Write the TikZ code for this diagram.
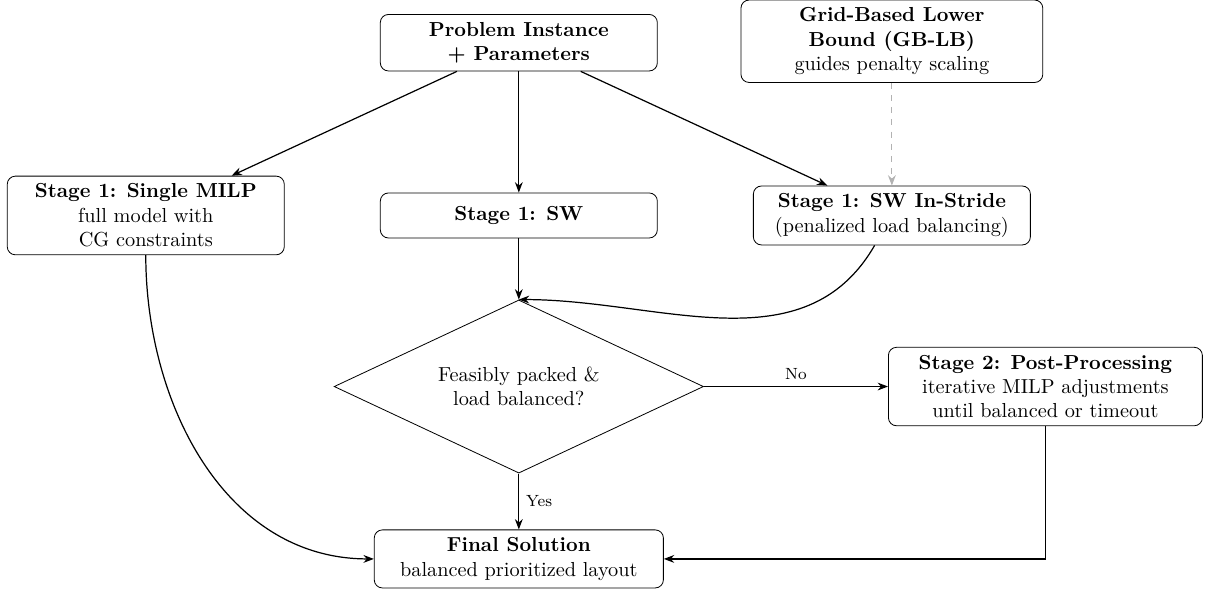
\documentclass[tikz,border=0pt]{standalone}
\usepackage{amsmath,amssymb}
\usepackage{tikz}
\usetikzlibrary{arrows.meta,positioning,shapes.geometric}

\begin{document}
\begin{tikzpicture}[
  stagebox/.style={draw, rounded corners, fill=white, inner xsep=3pt, inner ysep=3.8pt, align=center, minimum width=48mm, minimum height=7.8mm},
  decision/.style={draw, diamond, aspect=2.1, align=center, minimum width=64mm, minimum height=30mm, inner sep=1pt},
  arr/.style={-{Stealth[length=1.8mm]}, semithick},
  hint/.style={-{Stealth[length=1.8mm]}, dashed, gray!60, semithick},
  lbl/.style={font=\footnotesize}
]
  \useasboundingbox (0,0) rectangle (20.88,-10.19);

  % Top level
  \node[stagebox] (prob) at (8.99,-0.74) {\textbf{Problem Instance}\\\textbf{+ Parameters}};

  % Stage 1 variants
  \node[stagebox, below=21mm of prob] (sw) {\textbf{Stage 1: SW}};
  \node[stagebox, left=16.5mm of sw] (milp) {\textbf{Stage 1: Single MILP}\\full model with\\CG constraints};
  \node[stagebox, right=16.5mm of sw] (stride) {\textbf{Stage 1: SW In-Stride}\\(penalized load balancing)};
  \node[stagebox, minimum width=52.3mm, above=17.8mm of stride] (gblb) {\textbf{Grid-Based Lower}\\\textbf{Bound (GB-LB)}\\guides penalty scaling};

  % Check and stage 2
  \node[decision, below=10.6mm of sw] (dec) {Feasibly packed \&\\load balanced?};
  \node[stagebox, minimum width=54.4mm, right=31.9mm of dec] (post) {\textbf{Stage 2: Post-Processing}\\iterative MILP adjustments\\until balanced or timeout};
  \node[stagebox, minimum width=50.1mm, below=9.7mm of dec] (final) {\textbf{Final Solution}\\balanced prioritized layout};

  % Connectors
  \draw[arr] (prob) -- (milp);
  \draw[arr] (prob) -- (sw);
  \draw[arr] (prob) -- (stride);
  \draw[hint] (gblb) -- (stride);

  \draw[arr] (sw) -- (dec);
  \draw[arr] (stride) to[out=-120, in=0] (dec.north);
  \draw[arr] (milp) to[out=-90, in=180] (final.west);

  \draw[arr] (dec) -- node[above, lbl] {No} (post);
  \draw[arr] (dec) -- node[right, lbl] {Yes} (final);
  \draw[arr] (post) |- (final);
\end{tikzpicture}
\end{document}
